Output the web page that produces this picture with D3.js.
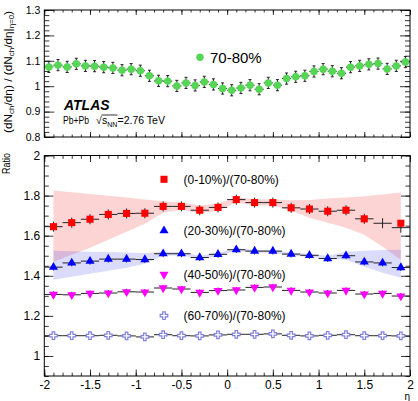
<!DOCTYPE html>
<html>
<head>
<meta charset="utf-8">
<script src="https://cdn.jsdelivr.net/npm/d3@7"></script>
<style>
body { margin: 0; background: #fff; }
text { font-family: "Liberation Sans", Arial, sans-serif; }
</style>
</head>
<body>
<svg id="chart" width="418" height="401"></svg>
<script>
// ---- data ----
// top panel: 70-80% normalised to eta = 0
const etaTop = [-1.95, -1.85, -1.75, -1.65, -1.55, -1.45, -1.35, -1.25, -1.15, -1.05,
                -0.95, -0.85, -0.75, -0.65, -0.55, -0.45, -0.35, -0.25, -0.15, -0.05,
                 0.05,  0.15,  0.25,  0.35,  0.45,  0.55,  0.65,  0.75,  0.85,  0.95,
                 1.05,  1.15,  1.25,  1.35,  1.45,  1.55,  1.65,  1.75,  1.85,  1.95];
const norm7080 = [1.076, 1.083, 1.076, 1.088, 1.080, 1.079, 1.075, 1.072, 1.063, 1.067,
                  1.061, 1.041, 1.021, 1.020, 1.001, 1.013, 1.003, 1.017, 1.007, 0.991,
                  0.984, 0.993, 1.004, 0.988, 1.013, 1.004, 1.030, 1.037, 1.041, 1.058,
                  1.067, 1.059, 1.051, 1.075, 1.080, 1.086, 1.089, 1.068, 1.080, 1.095];
const norm7080Err = 0.022;

// bottom panel: ratios to 70-80%
const etaBottom = [-1.9, -1.7, -1.5, -1.3, -1.1, -0.9, -0.7, -0.5, -0.3, -0.1,
                    0.1,  0.3,  0.5,  0.7,  0.9,  1.1,  1.3,  1.5,  1.7,  1.9];
const ratio010 = [1.645, 1.665, 1.682, 1.706, 1.711, 1.712, 1.746, 1.746, 1.727, 1.741,
                  1.780, 1.765, 1.765, 1.739, 1.733, 1.722, 1.727, 1.684, 1.662, 1.640];
const band010Hi = [1.826, 1.817, 1.808, 1.799, 1.790, 1.780, 1.772, 1.765, 1.750, 1.760,
                   1.792, 1.782, 1.780, 1.777, 1.778, 1.785, 1.790, 1.797, 1.806, 1.816];
const band010Lo = [1.470, 1.505, 1.540, 1.580, 1.620, 1.660, 1.715, 1.730, 1.712, 1.725,
                   1.765, 1.750, 1.750, 1.725, 1.690, 1.665, 1.640, 1.605, 1.545, 1.480];
const ratio010Hidden = [18];  // marker not drawn at eta = 1.7

const ratio2030 = [1.443, 1.464, 1.473, 1.483, 1.483, 1.481, 1.510, 1.510, 1.491, 1.507,
                   1.530, 1.523, 1.523, 1.508, 1.502, 1.486, 1.500, 1.469, 1.464, 1.441];
const band2030Hi = [1.525, 1.522, 1.520, 1.518, 1.516, 1.514, 1.520, 1.518, 1.500, 1.515,
                    1.537, 1.530, 1.530, 1.515, 1.510, 1.500, 1.520, 1.525, 1.528, 1.530];
const band2030Lo = [1.380, 1.395, 1.410, 1.425, 1.440, 1.460, 1.500, 1.502, 1.483, 1.500,
                    1.523, 1.515, 1.515, 1.500, 1.495, 1.485, 1.480, 1.445, 1.415, 1.390];

const ratio4050 = [1.307, 1.305, 1.312, 1.314, 1.320, 1.319, 1.339, 1.334, 1.317, 1.326,
                   1.329, 1.342, 1.344, 1.327, 1.319, 1.314, 1.327, 1.309, 1.312, 1.299];
const ratio6070 = [1.101, 1.101, 1.101, 1.103, 1.100, 1.095, 1.106, 1.101, 1.100, 1.105,
                   1.108, 1.108, 1.110, 1.103, 1.100, 1.103, 1.106, 1.101, 1.101, 1.100];

const legendLabels = ["(0-10%)/(70-80%)", "(20-30%)/(70-80%)", "(40-50%)/(70-80%)", "(60-70%)/(70-80%)"];

// tick labels
const xTicks = [-2, -1.5, -1, -0.5, 0, 0.5, 1, 1.5, 2];
const xTickLabels = ["-2", "-1.5", "-1", "-0.5", "0", "0.5", "1", "1.5", "2"];
const yTopTicks = [0.8, 0.9, 1, 1.1, 1.2, 1.3];
const yTopTickLabels = ["0.8", "0.9", "1", "1.1", "1.2", "1.3"];
const yBotTicks = [1, 1.2, 1.4, 1.6, 1.8, 2];
const yBotTickLabels = ["1", "1.2", "1.4", "1.6", "1.8", "2"];

// ---- layout ----
const svg = d3.select("#chart");
const left = 44.3, right = 410;
const topPanel = {y0: 10, y1: 137};
const botPanel = {y0: 155.5, y1: 376};

const x = d3.scaleLinear().domain([-2, 2]).range([left, right]);
const yTop = d3.scaleLinear().domain([0.8, 1.3]).range([topPanel.y1, topPanel.y0]);
const yBot = d3.scaleLinear().domain([0.9, 2]).range([botPanel.y1, botPanel.y0]);

const defs = svg.append("defs");
defs.append("clipPath").attr("id", "topClip")
    .append("rect").attr("x", 0).attr("y", 0).attr("width", 418).attr("height", 141);

function minorRange(a, b, step)
{
    let out = [];
    for (let v = a; v <= b + 1e-9; v += step) out.push(+v.toFixed(4));
    return out;
}

// frame with inward ticks on all four sides
function drawFrame(g, y, p, opt)
{
    const xMinor = minorRange(-2, 2, 0.1);
    const yMinor = minorRange(y.domain()[0], y.domain()[1], opt.yMinorStep);

    // left, inward
    g.append("g").attr("transform", "translate(" + left + ",0)")
        .call(d3.axisRight(y).tickValues(yMinor).tickSize(opt.yMinorLen).tickFormat("").tickSizeOuter(0));
    g.append("g").attr("transform", "translate(" + left + ",0)")
        .call(d3.axisRight(y).tickValues(opt.yTicks).tickSize(opt.yMajorLen).tickFormat("").tickSizeOuter(0));
    // right, inward
    g.append("g").attr("transform", "translate(" + right + ",0)")
        .call(d3.axisLeft(y).tickValues(yMinor).tickSize(opt.yMinorLen).tickFormat("").tickSizeOuter(0));
    g.append("g").attr("transform", "translate(" + right + ",0)")
        .call(d3.axisLeft(y).tickValues(opt.yTicks).tickSize(opt.yMajorLen).tickFormat("").tickSizeOuter(0));
    // bottom, inward
    g.append("g").attr("transform", "translate(0," + p.y1 + ")")
        .call(d3.axisTop(x).tickValues(xMinor).tickSize(opt.xMinorLen).tickFormat("").tickSizeOuter(0));
    g.append("g").attr("transform", "translate(0," + p.y1 + ")")
        .call(d3.axisTop(x).tickValues(xTicks).tickSize(opt.xMajorLen).tickFormat("").tickSizeOuter(0));
    // top, inward
    g.append("g").attr("transform", "translate(0," + p.y0 + ")")
        .call(d3.axisBottom(x).tickValues(xMinor).tickSize(opt.xMinorLen).tickFormat("").tickSizeOuter(0));
    g.append("g").attr("transform", "translate(0," + p.y0 + ")")
        .call(d3.axisBottom(x).tickValues(xTicks).tickSize(opt.xMajorLen).tickFormat("").tickSizeOuter(0));

    // y labels
    g.append("g").attr("transform", "translate(" + left + ",0)")
        .call(d3.axisLeft(y).tickValues(opt.yTicks).tickSize(0).tickPadding(4)
            .tickFormat(function(d, i) { return opt.yLabels[i]; }))
        .call(function(a) { a.select(".domain").remove(); })
        .selectAll("text").attr("font-size", opt.fontSize).attr("font-family", null).attr("fill", "#000");

    if (opt.xLabels)
    {
        g.append("g").attr("transform", "translate(0," + p.y1 + ")")
            .call(d3.axisBottom(x).tickValues(xTicks).tickSize(0).tickPadding(4)
                .tickFormat(function(d, i) { return xTickLabels[i]; }))
            .call(function(a) { a.select(".domain").remove(); })
            .selectAll("text").attr("font-size", opt.fontSize).attr("font-family", null).attr("fill", "#000");
    }

    g.selectAll(".tick line").attr("stroke", "#000").attr("stroke-width", 0.8);
    g.selectAll(".domain").remove();
    g.append("rect")
        .attr("x", left).attr("y", p.y0)
        .attr("width", right - left).attr("height", p.y1 - p.y0)
        .attr("fill", "none").attr("stroke", "#000").attr("stroke-width", 1);
}

// error bars: horizontal half width in eta, vertical half height in value
function drawErrors(g, xs, ys, y, hw, vh, caps)
{
    const eg = g.append("g").attr("stroke", "#222").attr("stroke-width", 1);
    eg.selectAll(".eh").data(xs).enter().append("line")
        .attr("x1", function(d) { return x(d - hw); })
        .attr("x2", function(d) { return x(d + hw); })
        .attr("y1", function(d, i) { return y(ys[i]); })
        .attr("y2", function(d, i) { return y(ys[i]); });
    eg.selectAll(".ev").data(xs).enter().append("line")
        .attr("x1", function(d) { return x(d); })
        .attr("x2", function(d) { return x(d); })
        .attr("y1", function(d, i) { return y(ys[i] - vh); })
        .attr("y2", function(d, i) { return y(ys[i] + vh); });
    if (caps)
    {
        [-1, 1].forEach(function(s)
        {
            eg.selectAll(".cap" + s).data(xs).enter().append("line")
                .attr("x1", function(d) { return x(d) - 1.5; })
                .attr("x2", function(d) { return x(d) + 1.5; })
                .attr("y1", function(d, i) { return y(ys[i] + s * vh); })
                .attr("y2", function(d, i) { return y(ys[i] + s * vh); });
        });
    }
}

function drawMarkers(g, xs, ys, y, sym, hidden)
{
    g.append("g").selectAll("path").data(xs).enter()
        .filter(function(d, i) { return !(hidden || []).includes(i); })
        .append("path")
        .attr("transform", function(d, i) {
            return "translate(" + x(d) + "," + y(ys[i]) + ")" + (sym.rotate ? " rotate(180)" : "");
        })
        .attr("d", d3.symbol().type(sym.type).size(sym.size))
        .attr("fill", sym.fill)
        .attr("stroke", sym.stroke || "none")
        .attr("stroke-width", sym.strokeWidth || 0);
}

// ---- top panel ----
const gTop = svg.append("g").attr("clip-path", "url(#topClip)");
drawFrame(gTop, yTop, topPanel, {
    yTicks: yTopTicks, yLabels: yTopTickLabels, yMinorStep: 0.02,
    yMajorLen: 10, yMinorLen: 5, xMajorLen: 5, xMinorLen: 2.5, fontSize: 10.5, xLabels: false
});
drawErrors(gTop, etaTop, norm7080, yTop, 0.05, norm7080Err, true);
const symGreen = {type: d3.symbolCircle, size: 44, fill: "#55d655"};
drawMarkers(gTop, etaTop, norm7080, yTop, symGreen);

// legend + labels
gTop.append("circle").attr("cx", 200).attr("cy", 57.3).attr("r", 3.7).attr("fill", "#55d655");
gTop.append("text").attr("x", 210).attr("y", 62.8).attr("font-size", 15).text("70-80%");
gTop.append("text").attr("x", 64).attr("y", 109.5).attr("font-size", 14)
    .attr("font-weight", "bold").attr("font-style", "italic").text("ATLAS");
gTop.append("text").attr("x", 63).attr("y", 124).attr("font-size", 10.5)
    .attr("textLength", 26).attr("lengthAdjust", "spacingAndGlyphs").text("Pb+Pb");
gTop.append("text").attr("x", 96).attr("y", 124).attr("font-size", 10.5).text("√");
gTop.append("text").attr("x", 102).attr("y", 124).attr("font-size", 10.5).text("s");
gTop.append("text").attr("x", 107.3).attr("y", 126.5).attr("font-size", 7).text("NN");
gTop.append("text").attr("x", 117.5).attr("y", 124).attr("font-size", 10.5).text("=2.76 TeV");
gTop.append("line").attr("x1", 101.5).attr("x2", 117.5).attr("y1", 115).attr("y2", 115)
    .attr("stroke", "#000").attr("stroke-width", 0.8);

// y title, top (long and narrow, as in the original)
const tTitle = svg.append("text")
    .attr("transform", "translate(11.5,11) rotate(-90)")
    .attr("text-anchor", "end").attr("font-size", 10.5)
    .attr("textLength", 122).attr("lengthAdjust", "spacingAndGlyphs");
tTitle.append("tspan").text("(dN");
tTitle.append("tspan").attr("font-size", 7).attr("dy", 2).text("ch");
tTitle.append("tspan").attr("dy", -2).text("/dη) / (dN");
tTitle.append("tspan").attr("font-size", 7).attr("dy", 2).text("ch");
tTitle.append("tspan").attr("dy", -2).text("/dη|");
tTitle.append("tspan").attr("font-size", 7).attr("dy", 2).text("η=0");
tTitle.append("tspan").attr("dy", -2).text(")");

// ---- bottom panel ----
const gBot = svg.append("g");
const area = function(lo, hi)
{
    return d3.area()
        .x(function(d) { return x(d); })
        .y0(function(d, i) { return yBot(lo[i]); })
        .y1(function(d, i) { return yBot(hi[i]); })(etaBottom);
};
gBot.append("path").attr("d", area(band010Lo, band010Hi)).attr("fill", "rgba(240,40,40,0.2)");
gBot.append("path").attr("d", area(band2030Lo, band2030Hi)).attr("fill", "rgba(40,40,240,0.17)");

drawFrame(gBot, yBot, botPanel, {
    yTicks: yBotTicks, yLabels: yBotTickLabels, yMinorStep: 0.05,
    yMajorLen: 9, yMinorLen: 4.5, xMajorLen: 6.5, xMinorLen: 3.3, fontSize: 12, xLabels: true
});

const series = [
    {vals: ratio010,  err: 0.025, sym: {type: d3.symbolSquare, size: 50, fill: "#ff0000"}, hidden: ratio010Hidden, ly: 179.3},
    {vals: ratio2030, err: 0.017, sym: {type: d3.symbolTriangle, size: 36, fill: "#0000ff"}, hidden: [], ly: 230.7},
    {vals: ratio4050, err: 0.015, sym: {type: d3.symbolTriangle, size: 36, fill: "#ff00ff", rotate: true}, hidden: [], ly: 274.5},
    {vals: ratio6070, err: 0.006, sym: {type: d3.symbolCross, size: 32, fill: "#ffffff", stroke: "#8080e0", strokeWidth: 1.2}, hidden: [], ly: 315.7}
];
series.forEach(function(s)
{
    drawErrors(gBot, etaBottom, s.vals, yBot, 0.1, s.err, false);
});
series.forEach(function(s, k)
{
    drawMarkers(gBot, etaBottom, s.vals, yBot, s.sym, s.hidden);
    // legend entry
    gBot.append("path")
        .attr("transform", "translate(164," + s.ly + ")" + (s.sym.rotate ? " rotate(180)" : ""))
        .attr("d", d3.symbol().type(s.sym.type).size(s.sym.size))
        .attr("fill", s.sym.fill)
        .attr("stroke", s.sym.stroke || "none")
        .attr("stroke-width", s.sym.strokeWidth || 0);
    gBot.append("text").attr("x", 183.5).attr("y", s.ly + 4.3)
        .attr("font-size", 12).text(legendLabels[k]);
});

svg.append("text")
    .attr("transform", "translate(10,153) rotate(-90)")
    .attr("text-anchor", "end").attr("font-size", 11)
    .attr("textLength", 21).attr("lengthAdjust", "spacingAndGlyphs").text("Ratio");
svg.append("text").attr("x", 410).attr("y", 400).attr("text-anchor", "end")
    .attr("font-size", 10).text("η");
</script>
</body>
</html>
